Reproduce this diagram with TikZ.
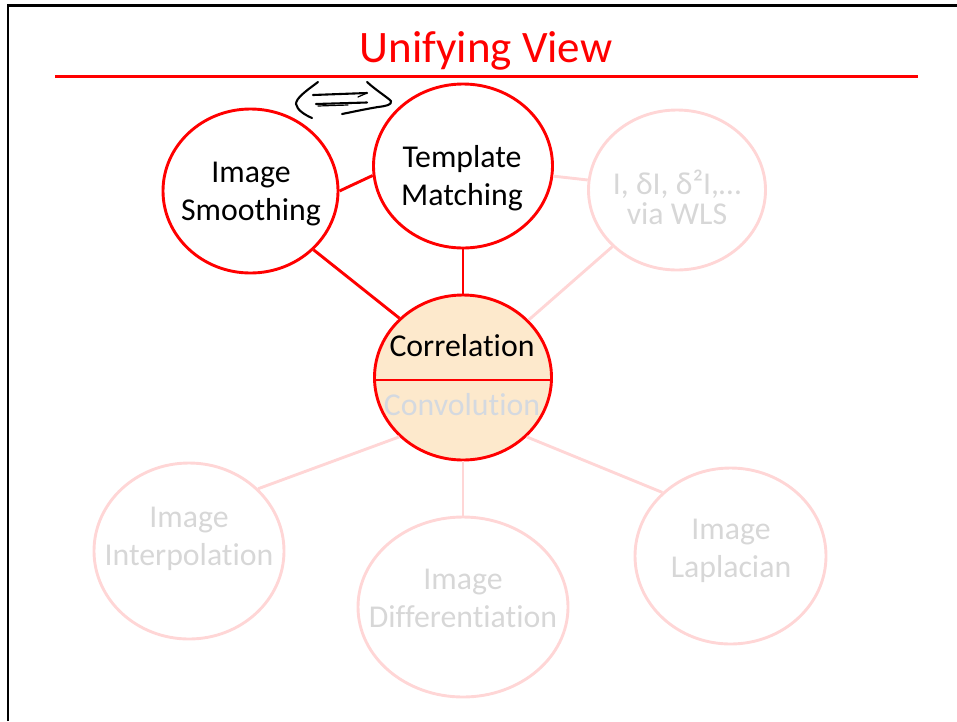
\documentclass[tikz,border=0pt]{standalone}
\usepackage{fontspec}
\setmainfont{Carlito}[Ligatures={NoCommon}]
\usetikzlibrary{shapes.geometric}
\definecolor{pptred}{RGB}{255,0,0}
\definecolor{fadeline}{RGB}{255,214,214}
\definecolor{fadetext}{RGB}{215,215,215}
\definecolor{convtext}{RGB}{212,217,224}
\definecolor{corfill}{RGB}{253,233,204}
\begin{document}
\begin{tikzpicture}[x=1pt,y=-1pt,
  hub/.style={ellipse, draw=pptred, line width=2.9pt, inner sep=0pt},
  faded/.style={ellipse, draw=fadeline, line width=2.9pt, inner sep=0pt},
  hubline/.style={draw=pptred, line width=2.9pt},
  fadeconn/.style={draw=fadeline, line width=2.9pt},
  txt/.style={anchor=base, inner sep=0pt, font=\fontsize{31.8}{37}\selectfont, text=black},
  ftxt/.style={txt, text=fadetext},
  sketch/.style={draw=black, line width=2.1pt, line cap=round, line join=round}]
\useasboundingbox (0,0) rectangle (957,721);
% frame
\draw[line width=2.5pt] (8,721) -- (8,5.5) -- (957,5.5);
% title
\node[anchor=base, inner sep=0pt, text=pptred, font=\fontsize{45}{50}\selectfont] (title) at (486,62) {Unifying View};
\draw[pptred, line width=3pt] (55,76) -- (918,76);
% circles
\node[hub, minimum width=175pt, minimum height=164pt] (sm) at (250.5,191) {};
\node[hub, minimum width=179pt, minimum height=164pt] (tm) at (463,166) {};
\node[faded, minimum width=177pt, minimum height=160pt] (wls) at (677,190) {};
\node[hub, fill=corfill, minimum width=177pt, minimum height=165pt] (cor) at (463,377.5) {};
\node[faded, minimum width=190pt, minimum height=176pt] (int) at (189,551) {};
\node[faded, minimum width=210pt, minimum height=180pt] (dif) at (463,607) {};
\node[faded, minimum width=191pt, minimum height=176pt] (lap) at (730.5,556) {};
% divider in correlation
\draw[hubline] ([yshift=-2.5pt]cor.west) -- ([yshift=-2.5pt]cor.east);
% connectors
\draw[hubline] (sm.0) -- (tm.186);
\draw[hubline] (sm.-43) -- (cor.137);
\draw[hubline] (tm.south) -- (cor.north);
\draw[fadeconn] (tm) -- (wls);
\draw[fadeconn] (wls) -- (cor);
\draw[fadeconn] (cor.223) -- (int.42);
\draw[fadeconn] (cor.south) -- (dif.north);
\draw[fadeconn] (cor.-43) -- (lap.137);
% texts
\node[txt] (smA) at (251,182) {Image};
\node[txt] (smB) at (251,220) {Smoothing};
\node[txt] (tmA) at (462,167) {Template};
\node[txt] (tmB) at (462,205) {Matching};
\node[ftxt] (wlsA) at (677,194) {I, δI, δ²I,…};
\node[ftxt] (wlsB) at (677,224) {via WLS};
\node[txt] (corA) at (462,356) {Correlation};
\node[txt, text=convtext] (corB) at (462,415) {Convolution};
\node[ftxt] (intA) at (189,527) {Image};
\node[ftxt] (intB) at (189,565) {Interpolation};
\node[ftxt] (difA) at (463,589) {Image};
\node[ftxt] (difB) at (463,627) {Differentiation};
\node[ftxt] (lapA) at (731,539) {Image};
\node[ftxt] (lapB) at (731,577) {Laplacian};
% hand-drawn swap arrow
\draw[sketch] (318,82) .. controls (306,91) and (296,98) .. (296,104) .. controls (297,110) and (305,115) .. (312,118);
\draw[sketch] (367,82) .. controls (377,91) and (387,97) .. (391,101) .. controls (392,105) and (386,106) .. (378,107) .. controls (366,109) and (352,112) .. (342,114);
\draw[sketch] (313,95) -- (367,93);
\draw[sketch, line width=1.2pt] (358,97) -- (367,93);
\draw[sketch] (316,104) -- (367,102.5);
\draw[sketch, line width=1.2pt] (318,106) -- (348,105);
\end{tikzpicture}
\end{document}
